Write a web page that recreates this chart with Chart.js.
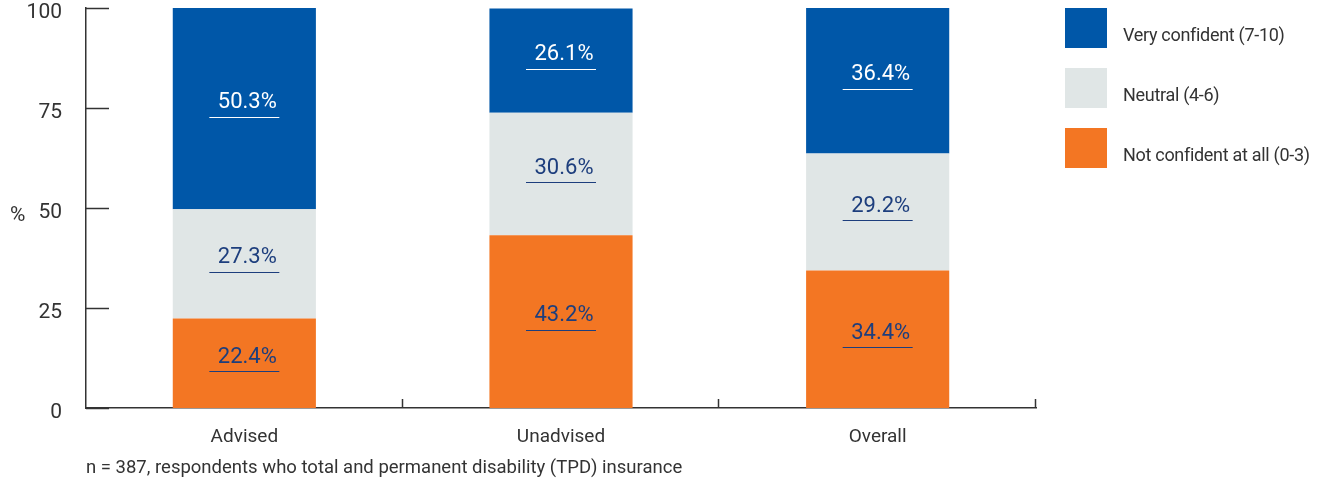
<!DOCTYPE html>
<html>
<head>
<meta charset="utf-8">
<script src="https://cdn.jsdelivr.net/npm/chart.js@4"></script>
<style>
  body { margin: 0; background: #fff; font-family: Roboto, sans-serif; color: #333; }
  #wrap { position: relative; width: 1317px; height: 483px; }
  #yunit { position: absolute; left: 10px; top: 202px; font-size: 21px; }
  #note { position: absolute; left: 86px; top: 456px; font-size: 18.5px; }
  .leg { position: absolute; left: 1065px; height: 40px; }
  .leg span.box { position: absolute; left: 0; top: 0; width: 42px; height: 40px; }
  .leg span.txt { position: absolute; left: 58px; top: 16px; font-size: 18px; letter-spacing: -0.3px; white-space: nowrap; line-height: 22px; }
</style>
</head>
<body>
<div id="wrap">
  <canvas id="chart" width="1317" height="483"></canvas>
  <div id="yunit">%</div>
  <div id="note">n = 387, respondents who total and permanent disability (TPD) insurance</div>
  <div id="legend"></div>
</div>
<script>
const categories = ["Advised", "Unadvised", "Overall"];
const notConfident = [22.4, 43.2, 34.4];
const neutral = [27.3, 30.6, 29.2];
const veryConfident = [50.3, 26.1, 36.4];
const yTicks = [0, 25, 50, 75, 100];

const seriesNames = ["Not confident at all (0-3)", "Neutral (4-6)", "Very confident (7-10)"];
const seriesColors = ["#f37623", "#e0e6e6", "#0057a8"];
const labelColors = ["#1d3e7d", "#1d3e7d", "#ffffff"];
const fontFamily = "Roboto, sans-serif";

// legend, top item is the top segment
const legendEl = document.getElementById("legend");
[2, 1, 0].forEach((idx, i) => {
  const d = document.createElement("div");
  d.className = "leg";
  d.style.top = (8 + i * 60) + "px";
  d.innerHTML = '<span class="box" style="background:' + seriesColors[idx] + '"></span><span class="txt">' + seriesNames[idx] + '</span>';
  legendEl.appendChild(d);
});

const tickMarks = {
  id: "tickMarks",
  afterDraw(chart) {
    const ctx = chart.ctx;
    const y = chart.scales.y;
    const area = chart.chartArea;
    ctx.save();
    ctx.strokeStyle = "#333";
    ctx.lineWidth = 1.5;
    yTicks.forEach(v => {
      const py = Math.round(y.getPixelForValue(v)) + 0.5;
      ctx.beginPath();
      ctx.moveTo(area.left, py);
      ctx.lineTo(area.left + 23, py);
      ctx.stroke();
    });
    for (let i = 1; i <= categories.length; i++) {
      const px = Math.round(area.left + (area.right - area.left) * i / categories.length) - 0.5;
      ctx.beginPath();
      ctx.moveTo(px, area.bottom);
      ctx.lineTo(px, area.bottom - 9);
      ctx.stroke();
    }
    ctx.restore();
  }
};

const barLabels = {
  id: "barLabels",
  afterDatasetsDraw(chart) {
    const ctx = chart.ctx;
    ctx.save();
    ctx.font = "22px " + fontFamily;
    ctx.textAlign = "center";
    ctx.textBaseline = "middle";
    chart.data.datasets.forEach((ds, di) => {
      const meta = chart.getDatasetMeta(di);
      meta.data.forEach((bar, i) => {
        const mid = (bar.y + bar.base) / 2;
        ctx.fillStyle = labelColors[di];
        ctx.strokeStyle = labelColors[di];
        ctx.fillText(ds.data[i].toFixed(1) + "%", bar.x + 3, mid - 6);
        ctx.lineWidth = 1.2;
        ctx.beginPath();
        ctx.moveTo(bar.x - 35, Math.round(mid + 8) + 0.5);
        ctx.lineTo(bar.x + 35, Math.round(mid + 8) + 0.5);
        ctx.stroke();
      });
    });
    ctx.restore();
  }
};

const values = [notConfident, neutral, veryConfident];

new Chart(document.getElementById("chart").getContext("2d"), {
  type: "bar",
  data: {
    labels: categories,
    datasets: values.map((v, i) => ({
      label: seriesNames[i],
      data: v,
      backgroundColor: seriesColors[i],
      borderWidth: 0,
      categoryPercentage: 1,
      barPercentage: 0.452
    }))
  },
  options: {
    responsive: false,
    animation: false,
    devicePixelRatio: 1,
    layout: { padding: { left: 0, right: 281, top: 8, bottom: 0 } },
    plugins: { legend: { display: false }, tooltip: { enabled: false } },
    scales: {
      x: {
        stacked: true,
        grid: { display: false },
        border: { display: true, color: "#333", width: 1.5 },
        ticks: { color: "#333", font: { family: fontFamily, size: 19 }, padding: 10 },
        afterFit(scale) { scale.height = 75; scale.paddingLeft = 0; scale.paddingRight = 0; }
      },
      y: {
        stacked: true,
        min: 0,
        max: 100,
        afterBuildTicks(scale) { scale.ticks = yTicks.map(v => ({ value: v })); },
        grid: { display: false },
        border: { display: true, color: "#333", width: 1.5 },
        ticks: { color: "#333", font: { family: fontFamily, size: 21 }, padding: 16, labelOffset: 5 },
        afterFit(scale) { scale.width = 86; scale.paddingTop = 0; scale.paddingBottom = 0; }
      }
    }
  },
  plugins: [tickMarks, barLabels]
});
</script>
</body>
</html>
